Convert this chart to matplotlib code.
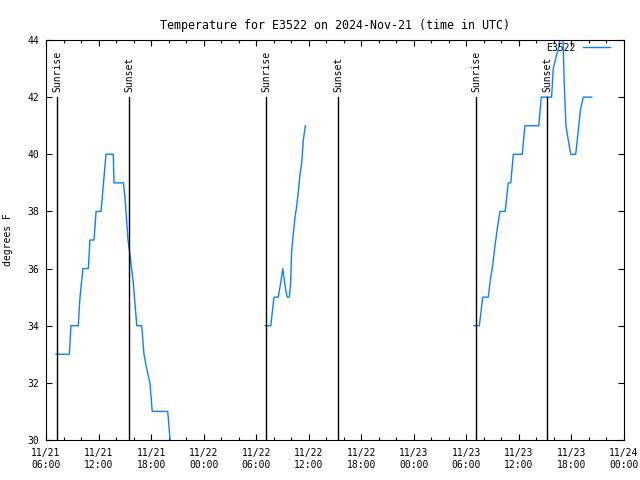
import pandas as pd
import matplotlib
matplotlib.use("Agg")
import matplotlib.pyplot as plt
import matplotlib.dates as mdates

# данные: три отрезка измерений
seg1_times = ["2024-11-21 07:08", "2024-11-21 08:40", "2024-11-21 08:51", "2024-11-21 09:41",
              "2024-11-21 09:53", "2024-11-21 10:13", "2024-11-21 10:50", "2024-11-21 11:01",
              "2024-11-21 11:29", "2024-11-21 11:43", "2024-11-21 12:17", "2024-11-21 12:34",
              "2024-11-21 12:51", "2024-11-21 13:41", "2024-11-21 13:46", "2024-11-21 14:50",
              "2024-11-21 15:01", "2024-11-21 15:22", "2024-11-21 15:35", "2024-11-21 15:58",
              "2024-11-21 16:22", "2024-11-21 16:56", "2024-11-21 17:11", "2024-11-21 17:30",
              "2024-11-21 17:52", "2024-11-21 18:08", "2024-11-21 19:54", "2024-11-21 20:10",
              "2024-11-21 20:24"]
seg1_temps = [33, 33, 34, 34, 35, 36, 36, 37, 37, 38, 38, 39, 40, 40, 39, 39,
              38.5, 37, 36.5, 35.5, 34, 34, 33, 32.5, 32, 31, 31, 30, 29]

seg2_times = ["2024-11-22 07:02", "2024-11-22 07:40", "2024-11-22 08:02", "2024-11-22 08:31",
              "2024-11-22 08:48", "2024-11-22 09:02", "2024-11-22 09:15", "2024-11-22 09:24",
              "2024-11-22 09:33", "2024-11-22 09:47", "2024-11-22 09:56", "2024-11-22 10:03",
              "2024-11-22 10:14", "2024-11-22 10:26", "2024-11-22 10:38", "2024-11-22 10:53",
              "2024-11-22 11:00", "2024-11-22 11:12", "2024-11-22 11:23", "2024-11-22 11:37"]
seg2_temps = [34, 34, 35, 35, 35.5, 36, 35.5, 35.2, 35, 35, 35.5, 36.6,
              37.2, 37.8, 38.2, 38.9, 39.3, 39.7, 40.5, 41]

seg3_times = ["2024-11-23 06:52", "2024-11-23 07:29", "2024-11-23 07:52", "2024-11-23 08:30",
              "2024-11-23 08:47", "2024-11-23 09:00", "2024-11-23 09:16", "2024-11-23 09:32",
              "2024-11-23 09:50", "2024-11-23 10:26", "2024-11-23 10:47", "2024-11-23 11:04",
              "2024-11-23 11:22", "2024-11-23 12:23", "2024-11-23 12:41", "2024-11-23 14:16",
              "2024-11-23 14:33", "2024-11-23 15:44", "2024-11-23 15:55", "2024-11-23 16:19",
              "2024-11-23 16:36", "2024-11-23 16:58", "2024-11-23 17:09", "2024-11-23 17:22",
              "2024-11-23 17:38", "2024-11-23 17:55", "2024-11-23 18:29", "2024-11-23 18:47",
              "2024-11-23 19:03", "2024-11-23 19:21", "2024-11-23 20:19"]
seg3_temps = [34, 34, 35, 35, 35.7, 36.1, 36.8, 37.4, 38, 38, 39, 39, 40, 40, 41, 41,
              42, 42, 43, 43.5, 43.8, 45, 42.7, 41, 40.5, 40, 40, 40.85, 41.6, 42, 42]

# восход / закат
sun_times = ["2024-11-21 07:15", "2024-11-21 15:29", "2024-11-22 07:07",
             "2024-11-22 15:20", "2024-11-23 07:06", "2024-11-23 15:12"]
sun_labels = ["Sunrise", "Sunset", "Sunrise", "Sunset", "Sunrise", "Sunset"]

plt.rcParams['font.family'] = ['DejaVu Sans Mono']
plt.rcParams['font.size'] = 7

fig = plt.figure(figsize=(6.4, 4.8), dpi=100)
ax = fig.add_axes([46 / 640, 40 / 480, 578 / 640, 400 / 480])

color = '#0a80ff'
ax.plot(pd.to_datetime(seg1_times), seg1_temps, color=color, lw=1.0, label='E3522')
ax.plot(pd.to_datetime(seg2_times), seg2_temps, color=color, lw=1.0)
ax.plot(pd.to_datetime(seg3_times), seg3_temps, color=color, lw=1.0)

for t, lab in zip(pd.to_datetime(sun_times), sun_labels):
    ax.plot([t, t], [30, 42], color='black', lw=1.0)
    ax.text(t, 42.17, lab, rotation=90, ha='center', va='bottom')

ax.set_xlim(pd.Timestamp("2024-11-21 06:00"), pd.Timestamp("2024-11-24 00:00"))
ax.set_ylim(30, 44)
ax.set_yticks(range(30, 45, 2))
ax.xaxis.set_major_locator(mdates.HourLocator(byhour=[0, 6, 12, 18]))
ax.xaxis.set_minor_locator(mdates.HourLocator(interval=2))
ax.xaxis.set_major_formatter(mdates.DateFormatter('%m/%d\n%H:%M'))
ax.tick_params(which='both', direction='in', top=True, right=True, width=0.8)
ax.tick_params(which='major', length=4, pad=6)
ax.tick_params(axis='y', which='major', pad=5)
ax.tick_params(which='minor', length=2)
for s in ax.spines.values():
    s.set_linewidth(0.8)

ax.set_ylabel("degrees F", labelpad=10)
ax.set_title("Temperature for E3522 on 2024-Nov-21 (time in UTC)", pad=8)
ax.legend(loc='upper right', bbox_to_anchor=(0.983, 1.003), frameon=False,
          markerfirst=False, handlelength=2.8, borderaxespad=0, fontsize=7)

fig.savefig("out.png", dpi=100)
